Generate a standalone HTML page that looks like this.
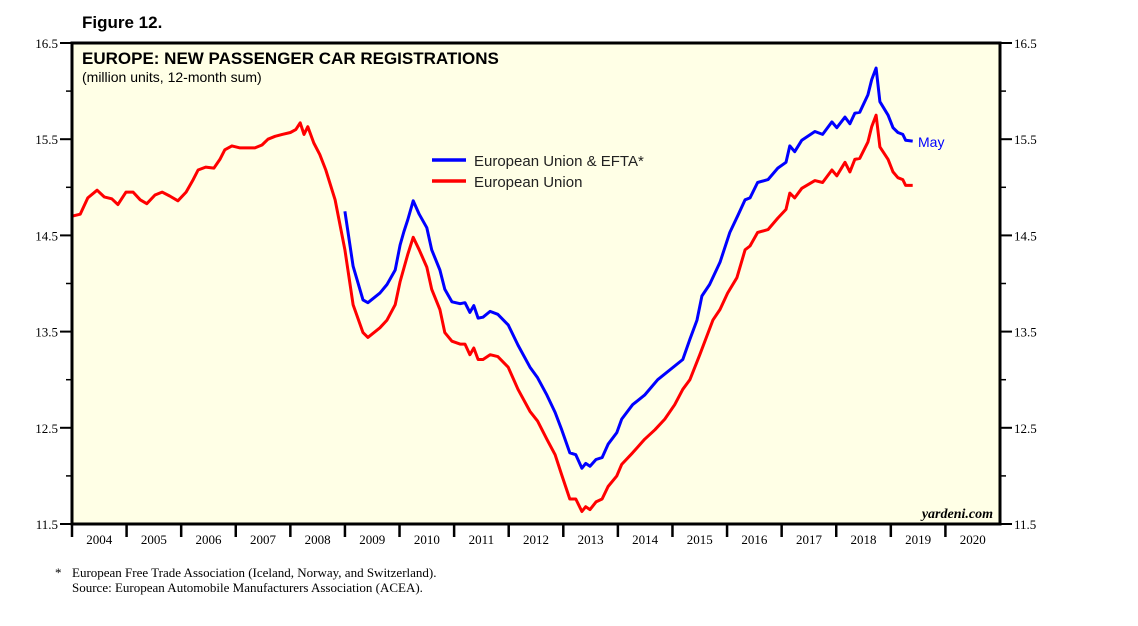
<!DOCTYPE html>
<html><head><meta charset="utf-8"><style>
body{margin:0;background:#fff;width:1138px;height:621px;overflow:hidden}
svg text{font-family:"Liberation Sans",sans-serif}
</style></head><body>
<svg width="1138" height="621" id="c">
<text x="82" y="28" font-size="17" font-weight="bold">Figure 12.</text>
<rect x="72" y="43" width="928" height="481" fill="#ffffe6"/>
<text x="82" y="64" font-size="17" font-weight="bold">EUROPE: NEW PASSENGER CAR REGISTRATIONS</text>
<text x="82" y="82" font-size="14">(million units, 12-month sum)</text>
<g id="axes"></g>
<g id="series"></g>
<g>
<line x1="432" y1="160" x2="466" y2="160" stroke="#00f" stroke-width="3.5"/>
<text x="474" y="166" font-size="15" fill="#222">European Union &amp; EFTA*</text>
<line x1="432" y1="181" x2="466" y2="181" stroke="#f00" stroke-width="3.5"/>
<text x="474" y="187" font-size="15" fill="#222">European Union</text>
</g>
<text x="918" y="147" font-size="14" fill="#00f">May</text>
<text x="993" y="518" font-size="14" font-weight="bold" font-style="italic" text-anchor="end" style="font-family:'Liberation Serif',serif">yardeni.com</text>
<rect x="72" y="43" width="928" height="481" fill="none" stroke="#000" stroke-width="3"/>
<text x="55" y="577" font-size="13" style="font-family:'Liberation Serif',serif">*</text>
<text x="72" y="577" font-size="13" style="font-family:'Liberation Serif',serif">European Free Trade Association (Iceland, Norway, and Switzerland).</text>
<text x="72" y="592" font-size="13" style="font-family:'Liberation Serif',serif">Source: European Automobile Manufacturers Association (ACEA).</text>
</svg>
<script>
const yTicks=[11.5,12.5,13.5,14.5,15.5,16.5];
const yMinor=[12,13,14,15,16];
const years=[2004,2005,2006,2007,2008,2009,2010,2011,2012,2013,2014,2015,2016,2017,2018,2019,2020];
const redDates=[2004.00,2004.15,2004.29,2004.46,2004.59,2004.73,2004.84,2004.99,2005.12,2005.25,2005.37,2005.52,2005.65,2005.79,2005.94,2006.09,2006.22,2006.31,2006.45,2006.60,2006.71,2006.80,2006.93,2007.08,2007.22,2007.35,2007.48,2007.59,2007.72,2007.85,2008.00,2008.10,2008.18,2008.25,2008.32,2008.43,2008.54,2008.65,2008.82,2009.00,2009.15,2009.33,2009.42,2009.64,2009.77,2009.92,2010.01,2010.08,2010.15,2010.25,2010.36,2010.50,2010.59,2010.74,2010.83,2010.96,2011.11,2011.20,2011.29,2011.36,2011.44,2011.53,2011.66,2011.80,2011.99,2012.17,2012.39,2012.53,2012.70,2012.85,2012.97,2013.12,2013.23,2013.34,2013.41,2013.49,2013.60,2013.71,2013.82,2013.98,2014.07,2014.27,2014.49,2014.68,2014.86,2015.04,2015.19,2015.32,2015.50,2015.74,2015.87,2016.01,2016.18,2016.33,2016.42,2016.56,2016.75,2016.93,2017.08,2017.15,2017.24,2017.37,2017.61,2017.75,2017.92,2018.01,2018.16,2018.25,2018.34,2018.43,2018.58,2018.65,2018.73,2018.80,2018.95,2019.04,2019.13,2019.22,2019.27,2019.40];
const redValues=[14.70,14.72,14.89,14.97,14.90,14.88,14.82,14.95,14.95,14.87,14.83,14.92,14.95,14.91,14.86,14.95,15.08,15.18,15.21,15.20,15.29,15.39,15.43,15.41,15.41,15.41,15.44,15.50,15.53,15.55,15.57,15.60,15.67,15.55,15.63,15.46,15.34,15.18,14.87,14.35,13.78,13.49,13.44,13.54,13.62,13.78,14.02,14.16,14.30,14.48,14.35,14.17,13.94,13.73,13.49,13.40,13.37,13.37,13.26,13.33,13.21,13.21,13.26,13.24,13.13,12.90,12.67,12.57,12.38,12.22,12.01,11.76,11.76,11.63,11.68,11.65,11.73,11.76,11.89,12.00,12.12,12.24,12.38,12.48,12.59,12.74,12.90,13.00,13.26,13.62,13.73,13.90,14.06,14.35,14.39,14.53,14.56,14.68,14.77,14.94,14.89,14.99,15.07,15.05,15.18,15.12,15.26,15.16,15.29,15.30,15.47,15.63,15.75,15.42,15.29,15.16,15.10,15.08,15.02,15.02];
const blueDates=[2009.00,2009.15,2009.33,2009.42,2009.64,2009.77,2009.92,2010.01,2010.08,2010.15,2010.25,2010.36,2010.50,2010.59,2010.74,2010.83,2010.96,2011.11,2011.20,2011.29,2011.36,2011.44,2011.53,2011.66,2011.80,2011.99,2012.17,2012.39,2012.53,2012.70,2012.85,2012.97,2013.12,2013.23,2013.34,2013.41,2013.49,2013.60,2013.71,2013.82,2013.98,2014.07,2014.27,2014.49,2014.73,2015.19,2015.32,2015.45,2015.54,2015.68,2015.87,2016.05,2016.20,2016.33,2016.42,2016.56,2016.75,2016.93,2017.08,2017.15,2017.24,2017.37,2017.61,2017.75,2017.92,2018.01,2018.16,2018.25,2018.34,2018.43,2018.58,2018.65,2018.73,2018.80,2018.95,2019.04,2019.13,2019.22,2019.27,2019.40];
const blueValues=[14.75,14.18,13.83,13.80,13.90,13.99,14.14,14.40,14.54,14.66,14.86,14.72,14.58,14.35,14.14,13.94,13.81,13.79,13.80,13.70,13.77,13.64,13.65,13.71,13.68,13.57,13.36,13.13,13.02,12.84,12.66,12.48,12.24,12.22,12.08,12.13,12.10,12.17,12.19,12.33,12.45,12.59,12.74,12.84,13.00,13.21,13.42,13.62,13.87,13.99,14.22,14.53,14.71,14.87,14.89,15.05,15.08,15.20,15.26,15.43,15.37,15.49,15.58,15.55,15.68,15.62,15.73,15.66,15.77,15.78,15.96,16.12,16.24,15.89,15.75,15.62,15.57,15.55,15.49,15.48];
const NS='http://www.w3.org/2000/svg';
const X0=72,X1=1000,Y0=524,Y1=43;
function xs(t){return X0+(t-2004)/17*(X1-X0);}
function ys(v){return Y0-(v-11.5)/5*(Y0-Y1);}
function mk(tag,attrs,parent){const e=document.createElementNS(NS,tag);for(const k in attrs)e.setAttribute(k,attrs[k]);parent.appendChild(e);return e;}
const ax=document.getElementById('axes');
yTicks.forEach(v=>{
 const y=ys(v);
 const l=mk('line',{x1:X0-12,x2:X0,y1:y,y2:y,stroke:'#000','stroke-width':2},ax);
 
 
 const r=mk('line',{x1:X1,x2:X1+12,y1:y,y2:y,stroke:'#000','stroke-width':2},ax);
 
 
 const t=mk('text',{x:X0-14,y:y+5,'font-size':13,'text-anchor':'end',style:"font-family:'Liberation Serif',serif"},ax);
 t.textContent=v.toFixed(1);
 
 
 const t2=mk('text',{x:X1+14,y:y+5,'font-size':13,style:"font-family:'Liberation Serif',serif"},ax);
 t2.textContent=v.toFixed(1);
 
 
});
yMinor.forEach(v=>{
 const y=ys(v);
 const l=mk('line',{x1:X0-6,x2:X0,y1:y,y2:y,stroke:'#000','stroke-width':1.5},ax);
 
 
 const r=mk('line',{x1:X1,x2:X1+6,y1:y,y2:y,stroke:'#000','stroke-width':1.5},ax);
 
 
});
years.forEach(yr=>{
 const x=xs(yr);
 const l=mk('line',{x1:x,x2:x,y1:Y0,y2:Y0+13,stroke:'#000','stroke-width':2.5},ax);
 
 
 const t=mk('text',{x:xs(yr+0.5),y:Y0+20,'font-size':13,'text-anchor':'middle',style:"font-family:'Liberation Serif',serif"},ax);
 t.textContent=yr;
 
 
});
const se=document.getElementById('series');
function line(d,v,col,name){
 const p=d.map((t,i)=>(i?'L':'M')+xs(t).toFixed(1)+','+ys(v[i]).toFixed(1)).join('');
 const e=mk('path',{d:p,fill:'none',stroke:col,'stroke-width':3,'stroke-linejoin':'round'},se);
 
 
}
line(redDates,redValues,'#f00','eu-line');
line(blueDates,blueValues,'#00f','eu-efta-line');
</script>
</body></html>
